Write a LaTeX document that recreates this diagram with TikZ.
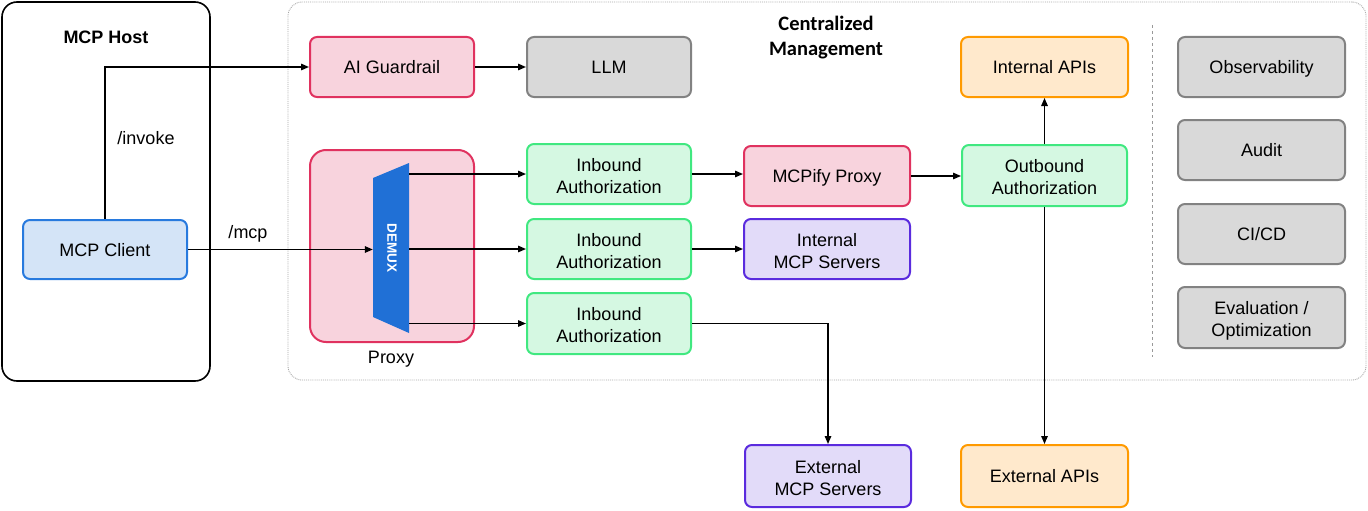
\documentclass[tikz,border=0pt]{standalone}
\usepackage{fontspec}
\setmainfont{Liberation Sans}
\newfontfamily\calibrifont{Carlito}
\usetikzlibrary{arrows.meta,calc}
\definecolor{pinkfill}{RGB}{248,211,221}
\definecolor{pinkline}{RGB}{224,50,95}
\definecolor{grayfill}{RGB}{217,217,217}
\definecolor{grayline}{RGB}{130,130,130}
\definecolor{greenfill}{RGB}{213,248,226}
\definecolor{greenline}{RGB}{64,232,128}
\definecolor{bluefill}{RGB}{212,228,247}
\definecolor{blueline}{RGB}{40,122,222}
\definecolor{purplefill}{RGB}{226,219,249}
\definecolor{purpleline}{RGB}{90,43,222}
\definecolor{orangefill}{RGB}{255,233,204}
\definecolor{orangeline}{RGB}{255,154,0}
\definecolor{demuxblue}{RGB}{32,112,214}
\newcommand{\boxstrut}{\rule[-4pt]{0pt}{21.1pt}}
\begin{document}
\begin{tikzpicture}[x=1pt,y=-1pt,
  box/.style={draw, line width=2pt, rounded corners=7pt, minimum width=164pt, minimum height=60pt,
    align=center, font=\fontsize{18}{22}\selectfont, inner sep=0pt,
    execute at begin node=\boxstrut},
  twolines/.code={\def\boxstrut{\rule[-4pt]{0pt}{46pt}}},
  pinkbox/.style={box, fill=pinkfill, draw=pinkline},
  graybox/.style={box, fill=grayfill, draw=grayline},
  greenbox/.style={box, fill=greenfill, draw=greenline},
  bluebox/.style={box, fill=bluefill, draw=blueline},
  purplebox/.style={box, fill=purplefill, draw=purpleline},
  orangebox/.style={box, fill=orangefill, draw=orangeline},
  conn/.style={line width=1.4pt, -{Triangle[length=8pt,width=6.5pt]}},
  lbl/.style={font=\fontsize{18}{22}\selectfont, inner sep=0pt},
]
\useasboundingbox (0,0) rectangle (1368,511);

% containers
\node[draw=black, line width=1.6pt, rounded corners=15pt, minimum width=208pt, minimum height=379pt, inner sep=0pt] (host) at (106,191.5) {};
\node[lbl, font=\fontsize{18}{22}\selectfont\bfseries] (hosttitle) at (106,37.5) {MCP Host};
\node[draw=gray!70, densely dotted, line width=0.9pt, rounded corners=14pt, minimum width=1078pt, minimum height=378pt, inner sep=0pt] (cm) at (827,191) {};
\node[align=center, inner sep=0pt, font=\fontsize{20.5}{25}\selectfont\calibrifont\bfseries] (cmtitle) at (826,38) {Centralized\\Management};
\coordinate (sepTop) at (1152,25);
\coordinate (sepBot) at (1152,357);
\draw[gray!80, dashed, line width=0.9pt] (sepTop) -- (sepBot);

% proxy and demux
\node[pinkbox, minimum height=192pt, rounded corners=16pt] (proxy) at (392,246) {};
\node[lbl] (proxylbl) at (391,359) {Proxy};
\fill[demuxblue] (373,178) -- (409,163) -- (409,333) -- (373,317) -- cycle;
\node[minimum width=36pt, minimum height=170pt, inner sep=0pt] (demux) at (391,248) {};
\node[rotate=-90, text=white, font=\fontsize{13.5}{16}\selectfont\bfseries, inner sep=0pt] (demuxlbl) at (392,248) {DEMUX};

% nodes
\node[bluebox, minimum height=59pt] (client) at (105,249.5) {MCP Client};
\node[pinkbox] (guard) at (392,67) {AI Guardrail};
\node[graybox] (llm) at (609,67) {LLM};
\node[greenbox, twolines] (in1) at (609,174) {Inbound\\Authorization};
\node[greenbox, twolines] (in2) at (609,249) {Inbound\\Authorization};
\node[greenbox, twolines, minimum height=61pt] (in3) at (609,323.5) {Inbound\\Authorization};
\node[pinkbox, minimum width=166pt] (mcpify) at (827,176) {MCPify Proxy};
\node[purplebox, twolines, minimum width=166pt] (intmcp) at (827,249) {Internal\\MCP Servers};
\node[orangebox, minimum width=167pt] (intapi) at (1044.5,67) {Internal APIs};
\node[greenbox, twolines, minimum width=165pt, minimum height=61pt] (outb) at (1044.5,175.5) {Outbound\\Authorization};
\node[graybox, minimum width=167pt] (obs) at (1261.5,67) {Observability};
\node[graybox, minimum width=167pt] (audit) at (1261.5,150) {Audit};
\node[graybox, minimum width=167pt] (cicd) at (1261.5,234) {CI/CD};
\node[graybox, twolines, minimum width=167pt, minimum height=61pt] (eval) at (1261.5,317.5) {Evaluation /\\Optimization};
\node[purplebox, twolines, minimum width=166pt, minimum height=62pt] (extmcp) at (828,476) {External\\MCP Servers};
\node[orangebox, minimum width=167pt, minimum height=62pt] (extapi) at (1044.5,476) {External APIs};

% connectors
\draw[conn] (client.north) |- (guard.west);
\node[lbl] (invokelbl) at (146,138) {/invoke};
\draw[conn] (client.east) -- (client.east -| demux.west);
\node[lbl] (mcplbl) at (248,234) {/mcp};
\draw[conn] (guard.east) -- (llm.west);
\draw[conn] (demux.east |- in1.west) -- (in1.west);
\draw[conn] (demux.east |- in2.west) -- (in2.west);
\draw[conn] (demux.east |- in3.west) -- (in3.west);
\draw[conn] (in1.east) -- (mcpify.west |- in1.east);
\draw[conn] (in2.east) -- (intmcp.west);
\draw[conn] (in3.east) -| (extmcp.north);
\draw[conn] (mcpify.east) -- (outb.west |- mcpify.east);
\draw[conn] (outb.north) -- (intapi.south);
\draw[conn] (outb.south) -- (extapi.north);
\end{tikzpicture}
\end{document}
